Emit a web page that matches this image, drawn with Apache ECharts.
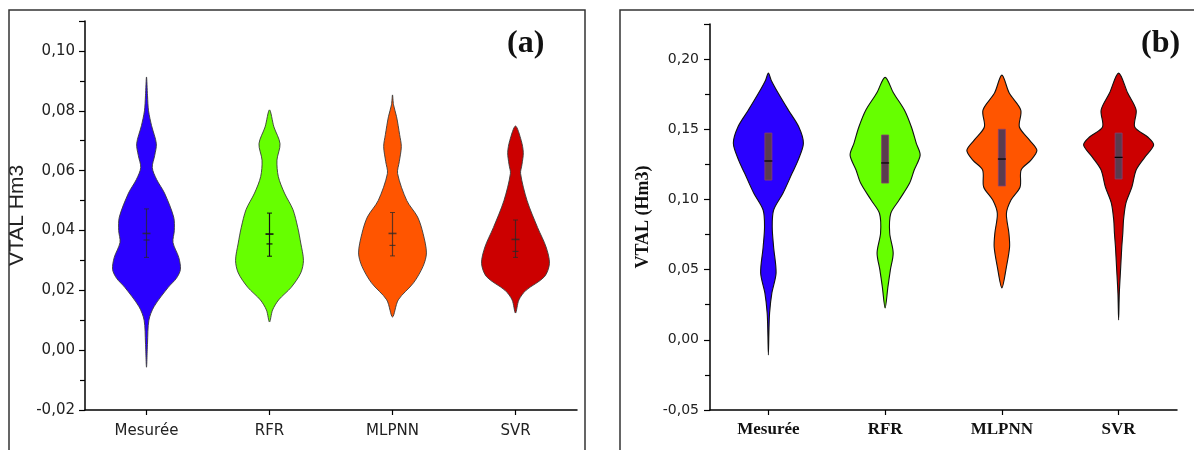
<!DOCTYPE html>
<html>
<head>
<meta charset="utf-8">
<script src="https://cdn.jsdelivr.net/npm/echarts@6/dist/echarts.min.js"></script>
<style>html,body{margin:0;padding:0;background:#fff;}#c{width:1194px;height:450px;}</style>
</head>
<body>
<div id="c"></div>
<script>
// ---------- data ----------
const categories = ['Mesurée', 'RFR', 'MLPNN', 'SVR'];
const violinColors = ['#2a00ff', '#66ff00', '#ff5500', '#cc0000'];

// Panel (a): density profiles (value, relative width)
const aMesureeV = [0.0913, 0.085, 0.080, 0.075, 0.069, 0.065, 0.061, 0.057, 0.0525, 0.0445, 0.040, 0.036, 0.031, 0.027, 0.024, 0.021, 0.0145, 0.010, 0.0024, -0.0057];
const aMesureeD = [0, 0.03, 0.06, 0.15, 0.29, 0.24, 0.17, 0.30, 0.53, 0.80, 0.82, 0.78, 0.95, 1.0, 0.88, 0.64, 0.22, 0.07, 0.03, 0];
const aRfrV = [0.0803, 0.0746, 0.069, 0.0635, 0.058, 0.0525, 0.047, 0.0411, 0.0358, 0.030, 0.0258, 0.021, 0.0168, 0.0134, 0.0094];
const aRfrD = [0, 0.13, 0.31, 0.22, 0.26, 0.44, 0.69, 0.83, 0.92, 1.0, 0.92, 0.64, 0.27, 0.09, 0];
const aMlpnnV = [0.0853, 0.082, 0.078, 0.072, 0.068, 0.063, 0.059, 0.050, 0.0445, 0.039, 0.0325, 0.028, 0.0225, 0.0168, 0.0111];
const aMlpnnD = [0, 0.03, 0.12, 0.21, 0.26, 0.20, 0.15, 0.42, 0.74, 0.90, 1.0, 0.90, 0.62, 0.17, 0];
const aSvrV = [0.0749, 0.070, 0.066, 0.062, 0.059, 0.050, 0.041, 0.0345, 0.029, 0.0245, 0.020, 0.0168, 0.0124];
const aSvrD = [0, 0.17, 0.23, 0.19, 0.15, 0.34, 0.65, 0.90, 1.0, 0.85, 0.31, 0.10, 0];
// Panel (a): error-bar statistics
const aLow = [0.031, 0.0314, 0.0315, 0.031];
const aHigh = [0.0472, 0.0458, 0.046, 0.0435];
const aMean = [0.039, 0.0388, 0.039, 0.037];
const aMedian = [0.0368, 0.0355, 0.035, 0.033];

// Panel (b): density profiles
const bMesureeV = [0.190, 0.185, 0.1758, 0.1637, 0.1516, 0.140, 0.128, 0.1188, 0.1046, 0.0925, 0.0804, 0.066, 0.0476, 0.0334, 0.0192, 0.005, -0.0107];
const bMesureeD = [0, 0.08, 0.28, 0.57, 0.87, 1.0, 0.85, 0.68, 0.42, 0.15, 0.11, 0.15, 0.22, 0.10, 0.035, 0.015, 0];
const bRfrV = [0.187, 0.1758, 0.1637, 0.1516, 0.140, 0.1316, 0.121, 0.1117, 0.0996, 0.090, 0.0761, 0.0619, 0.0498, 0.0377, 0.0227];
const bRfrD = [0, 0.24, 0.55, 0.75, 0.89, 1.0, 0.83, 0.70, 0.40, 0.16, 0.13, 0.23, 0.15, 0.08, 0];
const bMlpnnV = [0.1886, 0.1758, 0.1637, 0.1516, 0.1423, 0.135, 0.128, 0.121, 0.1089, 0.0996, 0.090, 0.0761, 0.0661, 0.052, 0.037];
const bMlpnnD = [0, 0.21, 0.54, 0.50, 0.79, 1.0, 0.83, 0.55, 0.52, 0.26, 0.13, 0.20, 0.22, 0.13, 0];
const bSvrV = [0.190, 0.1758, 0.1637, 0.1516, 0.1445, 0.1388, 0.1302, 0.121, 0.1089, 0.0975, 0.0854, 0.0761, 0.0661, 0.052, 0.0334, 0.0142];
const bSvrD = [0, 0.26, 0.50, 0.46, 0.83, 1.0, 0.75, 0.50, 0.38, 0.21, 0.14, 0.12, 0.09, 0.06, 0.02, 0];
// Panel (b): box statistics
const bQ1 = [0.1138, 0.1117, 0.1096, 0.1146];
const bQ3 = [0.1473, 0.1459, 0.150, 0.1473];
const bMedian = [0.1274, 0.126, 0.1288, 0.130];

// Axis ticks
const aTicks = { min: -0.02, max: 0.11, interval: 0.02 };
const bTicks = { min: -0.05, max: 0.225, interval: 0.05 };

// ---------- rendering ----------
const aProfiles = [[aMesureeV, aMesureeD], [aRfrV, aRfrD], [aMlpnnV, aMlpnnD], [aSvrV, aSvrD]];
const bProfiles = [[bMesureeV, bMesureeD], [bRfrV, bRfrD], [bMlpnnV, bMlpnnD], [bSvrV, bSvrD]];

function violinPoints(api, i, vs, ds, hw) {
  const pts = [];
  const n = vs.length;
  for (let k = 0; k < n; k++) {
    const p = api.coord([i, vs[k]]);
    pts.push([p[0] - ds[k] * hw, p[1]]);
  }
  for (let k = n - 2; k >= 1; k--) {
    const p = api.coord([i, vs[k]]);
    pts.push([p[0] + ds[k] * hw, p[1]]);
  }
  return pts;
}

function renderA(params, api) {
  const i = params.dataIndex;
  const band = api.size([1, 0])[0];
  const hw = band * 0.276;
  const [vs, ds] = aProfiles[i];
  const children = [{
    type: 'polygon',
    shape: { points: violinPoints(api, i, vs, ds, hw), smooth: 0.3 },
    style: { fill: violinColors[i], stroke: '#3a3a3a', lineWidth: 0.9 }
  }];
  const c = api.coord([i, aMean[i]]);
  const lo = api.coord([i, aLow[i]]);
  const hi = api.coord([i, aHigh[i]]);
  const md = api.coord([i, aMedian[i]]);
  const barColor = i === 1 ? '#111' : 'rgba(40,40,40,0.75)';
  const seg = (x1, y1, x2, y2, w) => ({ type: 'line', shape: { x1, y1, x2, y2 }, style: { stroke: barColor, lineWidth: w } });
  children.push(seg(c[0], lo[1], c[0], hi[1], 1.2));
  children.push(seg(c[0] - 2.5, lo[1], c[0] + 2.5, lo[1], 1));
  children.push(seg(c[0] - 2.5, hi[1], c[0] + 2.5, hi[1], 1));
  children.push(seg(c[0] - 4, c[1], c[0] + 4, c[1], 1.6));
  children.push(seg(c[0] - 3, md[1], c[0] + 3, md[1], 1.2));
  return { type: 'group', children };
}

function renderB(params, api) {
  const i = params.dataIndex;
  const band = api.size([1, 0])[0];
  const hw = band * 0.30;
  const [vs, ds] = bProfiles[i];
  const q1 = api.coord([i, bQ1[i]]);
  const q3 = api.coord([i, bQ3[i]]);
  const md = api.coord([i, bMedian[i]]);
  return {
    type: 'group',
    children: [{
      type: 'polygon',
      shape: { points: violinPoints(api, i, vs, ds, hw), smooth: 0.3 },
      style: { fill: violinColors[i], stroke: '#111', lineWidth: 1.1 }
    }, {
      type: 'rect',
      shape: { x: q1[0] - 3.5, y: q3[1], width: 7, height: q1[1] - q3[1] },
      style: { fill: '#5a3c4e', stroke: '#8a3d70', lineWidth: 0.8 }
    }, {
      type: 'line',
      shape: { x1: md[0] - 4, y1: md[1], x2: md[0] + 4, y2: md[1] },
      style: { stroke: '#000', lineWidth: 1.2 }
    }]
  };
}

function fmt(v) { return v.toFixed(2).replace('.', ','); }

const sans = '"Liberation Sans", Arial, sans-serif';
const wide = '"DejaVu Sans", sans-serif';
const serif = '"Liberation Serif", "Times New Roman", serif';

const chart = echarts.init(document.getElementById('c'), null, { renderer: 'canvas' });
chart.setOption({
  backgroundColor: '#fff',
  animation: false,
  grid: [
    { left: 85, right: 1194 - 577, top: 21, bottom: 40, containLabel: false, outerBoundsMode: 'none' },
    { left: 710, right: 1194 - 1177, top: 24, bottom: 40, containLabel: false, outerBoundsMode: 'none' }
  ],
  xAxis: [0, 1].map(g => ({
    type: 'category', gridIndex: g, data: categories, boundaryGap: true,
    axisLine: { show: true, onZero: false, lineStyle: { color: '#000', width: 1.5 } },
    axisTick: { show: true, alignWithLabel: true, length: 5, inside: false, lineStyle: { color: '#000', width: 1.2 } },
    axisLabel: g === 0
      ? { color: '#222', fontFamily: wide, fontSize: 15, margin: 14 }
      : { color: '#111', fontFamily: serif, fontSize: 17, fontWeight: 'bold', margin: 11 },
    splitLine: { show: false }
  })),
  yAxis: [
    {
      type: 'value', gridIndex: 0, min: aTicks.min, max: aTicks.max, interval: aTicks.interval,
      name: 'VTAL Hm3', nameLocation: 'middle', nameGap: 57,
      nameTextStyle: { fontFamily: sans, fontSize: 21, color: '#222' },
      axisLine: { show: true, onZero: false, lineStyle: { color: '#000', width: 1.5 } },
      axisTick: { show: true, length: 6, lineStyle: { color: '#000', width: 1.2 } },
      minorTick: { show: true, splitNumber: 2, length: 5, lineStyle: { color: '#000', width: 1.2 } },
      axisLabel: { color: '#222', fontFamily: wide, fontSize: 15, margin: 10, showMaxLabel: false,
        formatter: v => fmt(v) },
      splitLine: { show: false }, minorSplitLine: { show: false }
    },
    {
      type: 'value', gridIndex: 1, min: bTicks.min, max: bTicks.max, interval: bTicks.interval,
      name: 'VTAL (Hm3)', nameLocation: 'middle', nameGap: 58,
      nameTextStyle: { fontFamily: serif, fontSize: 18, fontWeight: 'bold', color: '#111' },
      axisLine: { show: true, onZero: false, lineStyle: { color: '#000', width: 1.5 } },
      axisTick: { show: true, length: 6, lineStyle: { color: '#000', width: 1.2 } },
      minorTick: { show: true, splitNumber: 2, length: 5, lineStyle: { color: '#000', width: 1.2 } },
      axisLabel: { color: '#222', fontFamily: wide, fontSize: 14, margin: 11, showMaxLabel: false,
        formatter: v => fmt(v) },
      splitLine: { show: false }, minorSplitLine: { show: false }
    }
  ],
  graphic: [
    { type: 'rect', shape: { x: 9, y: 10, width: 576, height: 460 }, style: { fill: 'none', stroke: '#333', lineWidth: 1.5 }, z: 100 },
    { type: 'rect', shape: { x: 620, y: 10, width: 600, height: 460 }, style: { fill: 'none', stroke: '#333', lineWidth: 1.5 }, z: 100 },
    { type: 'text', left: 507, top: 28, style: { text: '(a)', font: 'bold 32px ' + serif, fill: '#111' }, z: 100 },
    { type: 'text', left: 1141, top: 28, style: { text: '(b)', font: 'bold 32px ' + serif, fill: '#111' }, z: 100 }
  ],
  series: [
    { type: 'custom', xAxisIndex: 0, yAxisIndex: 0, renderItem: renderA,
      encode: { x: 0, y: 1 }, data: categories.map((c, i) => [i, aMean[i]]), silent: true },
    { type: 'custom', xAxisIndex: 1, yAxisIndex: 1, renderItem: renderB,
      encode: { x: 0, y: 1 }, data: categories.map((c, i) => [i, bMedian[i]]), silent: true }
  ]
});
</script>
</body>
</html>
